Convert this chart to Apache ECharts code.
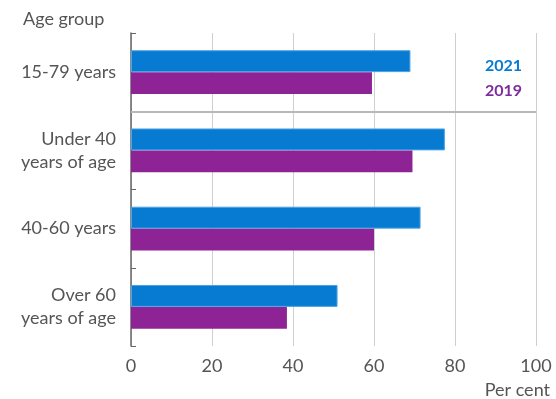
<!DOCTYPE html>
<html>
<head>
<meta charset="utf-8">
<script src="https://cdn.jsdelivr.net/npm/echarts@6/dist/echarts.min.js"></script>
<style>
  html, body { margin: 0; padding: 0; background: #fff; }
  #chart { width: 556px; height: 399px; }
</style>
</head>
<body>
<div id="chart"></div>
<script>
// Age groups, top to bottom
const categories = ['15-79 years', 'Under 40\nyears of age', '40-60 years', 'Over 60\nyears of age'];
// Share of each age group, per cent
const values2021 = [69, 77.5, 71.5, 51];
const values2019 = [59.5, 69.5, 60, 38.5];
const xTicks = [0, 20, 40, 60, 80, 100];
// Band boundary below the total (15-79) group
const separatorAt = 1;

const FONT = 'Lato, sans-serif';
const BLUE = '#077bd2';
const PURPLE = '#8e2396';
const TEXT = '#555';
const SIZE = 18;

const chart = echarts.init(document.getElementById('chart'));
chart.setOption({
  animation: false,
  textStyle: { fontFamily: FONT },
  title: {
    text: 'Age group',
    left: 18, top: 5,
    textStyle: { fontFamily: FONT, fontSize: SIZE, fontWeight: 'normal', color: TEXT }
  },
  legend: {
    orient: 'vertical',
    right: 23, top: 53,
    itemWidth: 0, itemHeight: 0, itemGap: 9,
    selectedMode: false,
    align: 'right',
    data: [
      { name: '2021', icon: 'rect', textStyle: { color: BLUE } },
      { name: '2019', icon: 'rect', textStyle: { color: '#7d2c9f' } }
    ],
    textStyle: { fontFamily: FONT, fontSize: 16, fontWeight: 'bold', padding: 0 }
  },
  grid: { left: 131, right: 20, top: 33, bottom: 53, containLabel: false },
  xAxis: {
    type: 'value',
    min: xTicks[0], max: xTicks[xTicks.length - 1], interval: 20,
    axisLine: { show: false, onZero: false },
    axisTick: { show: false },
    axisLabel: { color: TEXT, fontSize: SIZE, margin: 11, fontFamily: FONT },
    splitLine: { show: true, lineStyle: { color: '#cfcfcf', width: 1 } },
    name: 'Per cent',
    nameLocation: 'end',
    nameGap: 14,
    nameTextStyle: { color: TEXT, fontSize: SIZE, fontFamily: FONT, align: 'right', verticalAlign: 'top', padding: [35, 0, 0, 0] }
  },
  yAxis: [
    {
      type: 'category',
      inverse: true,
      data: categories,
      axisLine: { show: true, onZero: false, lineStyle: { color: '#666', width: 1.5 } },
      axisTick: { show: false },
      axisLabel: { color: TEXT, fontSize: SIZE, margin: 15, lineHeight: 23, fontFamily: FONT, align: 'right' },
      splitLine: { show: false }
    },
    {
      // band boundaries, used for the tick marks and the separator
      type: 'value',
      inverse: true,
      min: 0, max: categories.length, interval: 1,
      position: 'left',
      axisLine: { show: false, onZero: false },
      axisTick: { show: true, inside: true, length: 5, lineStyle: { color: '#666', width: 1 } },
      axisLabel: { show: false },
      splitLine: { show: false }
    }
  ],
  series: [
    {
      name: '2021', type: 'bar', data: values2021,
      barGap: '0%', barCategoryGap: '44%',
      itemStyle: { color: BLUE, borderColor: '#4ea4e4', borderWidth: 1 }
    },
    {
      name: '2019', type: 'bar', data: values2019,
      itemStyle: { color: PURPLE }
    },
    {
      name: 'separator', type: 'line', yAxisIndex: 1, data: [],
      silent: true,
      markLine: {
        silent: true,
        symbol: 'none',
        label: { show: false },
        lineStyle: { color: '#b8b8b8', width: 2, type: 'solid' },
        data: [{ yAxis: separatorAt }]
      }
    }
  ]
});
</script>
</body>
</html>
